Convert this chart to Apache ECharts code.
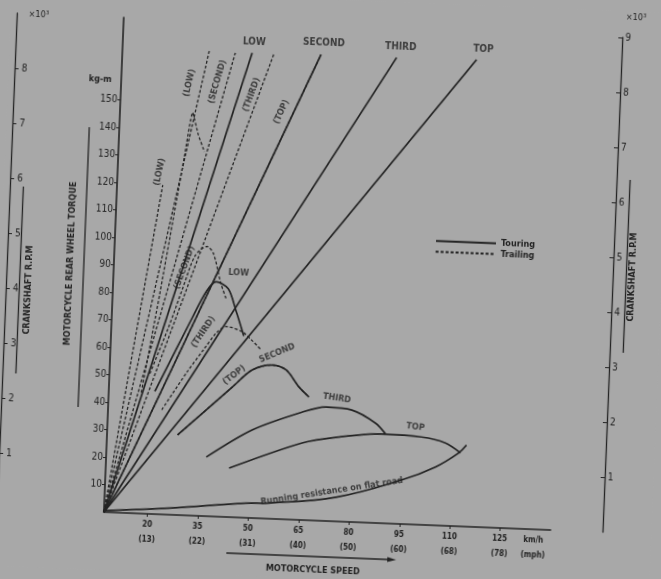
<!DOCTYPE html>
<html>
<head>
<meta charset="utf-8">
<script src="https://cdn.jsdelivr.net/npm/echarts@6/dist/echarts.min.js"></script>
<style>
html, body { margin: 0; padding: 0; background: #a8a8a8; overflow: hidden; }
/* the scanned sheet sits slightly skewed, so the whole chart is turned a little */
#chart { width: 661px; height: 579px; transform: rotate(2.3deg); transform-origin: 50% 50%; }
</style>
</head>
<body>
<div id="chart"></div>
<script>
// axis ticks
const speedTicks = [20, 35, 50, 65, 80, 95, 110, 125];
const mphTicks = ['13', '22', '31', '40', '50', '60', '68', '78'];
const unitAt = 135;
const torqueTicks = [10, 20, 30, 40, 50, 60, 70, 80, 90, 100, 110, 120, 130, 140, 150];
const rpmLeftTicks = [1, 2, 3, 4, 5, 6, 7, 8];
const rpmRightTicks = [1, 2, 3, 4, 5, 6, 7, 8, 9];

// engine speed lines (x10^3 rpm) from the origin
const originSpeed = 7;
const touringTopSpeed = [45.6, 66.1, 88.6, 112.4];
const touringTopRpm = [8.45, 8.47, 8.47, 8.49];
const trailingTopSpeed = [32.9, 40.6, 52.2, 66.1];
const trailingTopRpm = [8.48, 8.44, 8.47, 8.47];
const lowStartSpeed = [7, 20.6];
const lowStartTorque = [0, 119.7];

// rear wheel torque, touring (kg-m)
const lowSpeed = [20.7, 31, 35, 37.7, 41.3, 43.9, 46.5];
const lowTorque = [44.6, 72, 82, 85.3, 83, 75, 66];
const secondSpeed = [28, 43.7, 49.4, 55.3, 59.5, 63.5, 66.6];
const secondTorque = [29.1, 47.3, 53.8, 55.9, 54.3, 48.3, 44.8];
const thirdSpeed = [36.8, 50.1, 64.7, 71.8, 79.5, 86.7, 89.8];
const thirdTorque = [21.5, 32, 39.2, 41.4, 40.7, 36.3, 32.5];
const topSpeed = [43.7, 65.1, 76, 88.6, 100.5, 107.7, 112.3];
const topTorque = [17.8, 28, 30.7, 32.4, 31.9, 30.1, 26.7];

// rear wheel torque, trailing (kg-m)
const tLowSpeed = [16.7, 21, 24.9, 26.7, 28.6, 30.6, 32.6];
const tLowTorque = [44, 80, 114.5, 130.3, 146.4, 138.4, 132.4];
const tSecondSpeed = [19, 24, 27.9, 31.1, 34.5, 36.5, 39, 40.9];
const tSecondTorque = [51, 68, 83, 94.5, 98, 95.5, 85, 79];
const tThirdSpeed = [23, 30, 35, 38.5, 41.2, 46, 49, 52];
const tThirdTorque = [38, 52, 61, 67, 69.2, 67.5, 64.5, 61];
const tTopSpeed = secondSpeed;     // lies on the touring SECOND curve
const tTopTorque = secondTorque;

// running resistance on flat road
const runSpeed = [7, 26.5, 49.2, 56, 75.8, 95.1, 105, 111.7, 114];
const runTorque = [0.5, 2.4, 5.3, 5.7, 8.8, 16, 21.2, 26.6, 29.6];

// text on the plot
const noteText = ['LOW', 'SECOND', 'THIRD', 'TOP', '(LOW)', '(SECOND)', '(THIRD)', '(TOP)', '(LOW)',
  '(SECOND)', 'LOW', '(THIRD)', '(TOP)', 'SECOND', 'THIRD', 'TOP', 'Running resistance on flat road'];
const noteSpeed = [46.1, 66.8, 89.7, 114.3, 27.3, 35.6, 45.9, 55, 19.5, 28, 44.2, 34.4, 44.1, 56.6, 74.9, 98.6, 74.5];
const noteTorque = [173.1, 173.7, 173.4, 173.5, 157.2, 158, 153.8, 148, 124.4, 90, 88.8, 66.9, 51.7, 60.3, 44.8, 35.5, 10.9];
const noteAngle = [0, 0, 0, 0, 79, 76, 72, 67, 80, 72, 0, 58, 40, 25, -6, -5, 11];

const ink = '#232323';
const font = "'Liberation Sans Narrow', 'DejaVu Sans Condensed', 'DejaVu Sans', sans-serif";
const zip = (xs, ys) => xs.map((x, i) => [x, ys[i]]);

function curve(name, xs, ys, dashed, yIdx, smooth) {
    return {
        name: name, type: 'line', yAxisIndex: yIdx, data: zip(xs, ys),
        symbol: 'none', smooth: smooth, silent: true,
        lineStyle: { color: ink, width: dashed ? 1.3 : 1.7, type: dashed ? [3, 2] : 'solid' }
    };
}

const series = [];
touringTopSpeed.forEach((s, i) => series.push(curve('Touring', [originSpeed, s], [0, touringTopRpm[i]], false, 2, false)));
trailingTopSpeed.forEach((s, i) => series.push(curve('Trailing', [originSpeed, s], [0, trailingTopRpm[i]], true, 2, false)));
series.push(curve('Trailing', lowStartSpeed, lowStartTorque, true, 0, false));
series.push(curve('Touring', lowSpeed, lowTorque, false, 0, 0.3));
series.push(curve('Touring', secondSpeed, secondTorque, false, 0, 0.3));
series.push(curve('Touring', thirdSpeed, thirdTorque, false, 0, 0.3));
series.push(curve('Touring', topSpeed, topTorque, false, 0, 0.3));
series.push(curve('Trailing', tLowSpeed, tLowTorque, true, 0, 0.15));
series.push(curve('Trailing', tSecondSpeed, tSecondTorque, true, 0, 0.3));
series.push(curve('Trailing', tThirdSpeed, tThirdTorque, true, 0, 0.3));
series.push(curve('Trailing', tTopSpeed, tTopTorque, true, 0, 0.3));
series.push(curve('Running resistance', runSpeed, runTorque, false, 0, 0.4));
series.push({
    name: 'notes', type: 'scatter', yAxisIndex: 0, symbolSize: 1, silent: true, z: 5,
    itemStyle: { color: 'rgba(0,0,0,0)' },
    label: { show: true, position: 'inside', color: ink, fontSize: 9, fontWeight: 'bold', fontFamily: font },
    data: noteText.map((t, i) => ({
        value: [noteSpeed[i], noteTorque[i]],
        label: { formatter: t, rotate: noteAngle[i], fontSize: i < 4 ? 10 : 9 }
    }))
});

const axisText = { color: ink, fontFamily: font };

const option = {
    animation: false,
    backgroundColor: '#a8a8a8',
    color: [ink],
    textStyle: { fontFamily: font, color: ink },
    grid: { left: 113, right: 101, top: 26, bottom: 58, outerBoundsMode: 'none' },
    legend: {
        data: ['Touring', 'Trailing'], orient: 'vertical', left: 433, top: 232,
        itemWidth: 60, itemHeight: 12, itemGap: 1, padding: 0, selectedMode: false,
        itemStyle: { opacity: 0 },
        textStyle: { color: ink, fontSize: 9, fontFamily: font, fontWeight: 'bold' }
    },
    xAxis: {
        type: 'value', min: 7, max: 140, splitLine: { show: false },
        axisLine: { onZero: false, lineStyle: { color: ink, width: 1.6 } },
        axisTick: { customValues: speedTicks, length: 3, lineStyle: { color: ink } },
        axisLabel: Object.assign({
            customValues: speedTicks.concat([unitAt]), fontSize: 8, lineHeight: 15, margin: 3, fontWeight: 'bold',
            formatter: v => v === unitAt ? 'km/h\n(mph)' : v + '\n(' + mphTicks[speedTicks.indexOf(v)] + ')'
        }, axisText)
    },
    yAxis: [
        {
            type: 'value', min: 0, max: 180, splitLine: { show: false },
            axisLine: { show: true, onZero: false, lineStyle: { color: ink, width: 1.6 } },
            axisTick: { show: true, customValues: torqueTicks, length: 3, lineStyle: { color: ink } },
            axisLabel: Object.assign({ customValues: torqueTicks, fontSize: 10, margin: 3 }, axisText)
        },
        {
            type: 'value', min: 0, max: 9, position: 'left', offset: 107, splitLine: { show: false },
            axisLine: { show: true, onZero: false, lineStyle: { color: ink, width: 1.3 } },
            axisTick: { show: true, inside: true, customValues: rpmLeftTicks, length: 4, lineStyle: { color: ink } },
            axisLabel: Object.assign({ customValues: rpmLeftTicks, inside: true, fontSize: 10, margin: 7 }, axisText)
        },
        {
            type: 'value', min: 0, max: 9, position: 'right', offset: 52, splitLine: { show: false },
            axisLine: { show: true, onZero: false, lineStyle: { color: ink, width: 1.3 } },
            axisTick: { show: true, inside: true, customValues: rpmRightTicks, length: 4, lineStyle: { color: ink } },
            axisLabel: Object.assign({ customValues: rpmRightTicks, fontSize: 10, margin: 3 }, axisText)
        }
    ],
    graphic: [
        { type: 'text', x: 92, y: 89, style: { text: 'kg-m', fill: ink, fontSize: 9, fontWeight: 'bold', fontFamily: font, align: 'center', verticalAlign: 'middle' } },
        { type: 'text', x: 28, y: 27, style: { text: '×10³', fill: ink, fontSize: 9, fontFamily: font, align: 'center', verticalAlign: 'middle' } },
        { type: 'text', x: 625, y: 6, style: { text: '×10³', fill: ink, fontSize: 9, fontFamily: font, align: 'center', verticalAlign: 'middle' } },
        { type: 'text', x: 70, y: 274, rotation: Math.PI / 2, style: { text: 'MOTORCYCLE REAR WHEEL TORQUE', fill: ink, fontSize: 9, fontWeight: 'bold', fontFamily: font, align: 'center', verticalAlign: 'middle' } },
        { type: 'text', x: 28.5, y: 302, rotation: Math.PI / 2, style: { text: 'CRANKSHAFT R.P.M', fill: ink, fontSize: 9, fontWeight: 'bold', fontFamily: font, align: 'center', verticalAlign: 'middle' } },
        { type: 'text', x: 632, y: 265, rotation: Math.PI / 2, style: { text: 'CRANKSHAFT R.P.M', fill: ink, fontSize: 9, fontWeight: 'bold', fontFamily: font, align: 'center', verticalAlign: 'middle' } },
        { type: 'text', x: 324, y: 571, style: { text: 'MOTORCYCLE SPEED', fill: ink, fontSize: 9, fontWeight: 'bold', fontFamily: font, align: 'center', verticalAlign: 'middle' } },
        { type: 'line', shape: { x1: 83, y1: 137, x2: 83, y2: 417 }, style: { stroke: ink, lineWidth: 1.3 } },
        { type: 'line', shape: { x1: 19.5, y1: 199, x2: 19.5, y2: 386 }, style: { stroke: ink, lineWidth: 1.3 } },
        { type: 'line', shape: { x1: 625.5, y1: 168, x2: 625.5, y2: 341 }, style: { stroke: ink, lineWidth: 1.3 } },
        { type: 'line', shape: { x1: 237, y1: 557, x2: 402, y2: 557 }, style: { stroke: ink, lineWidth: 1.3 } },
        { type: 'polygon', shape: { points: [[407, 557], [398, 554.5], [398, 559.5]] }, style: { fill: ink } }
    ],
    series: series
};

const chart = echarts.init(document.getElementById('chart'));
chart.setOption(option);
</script>
</body>
</html>
